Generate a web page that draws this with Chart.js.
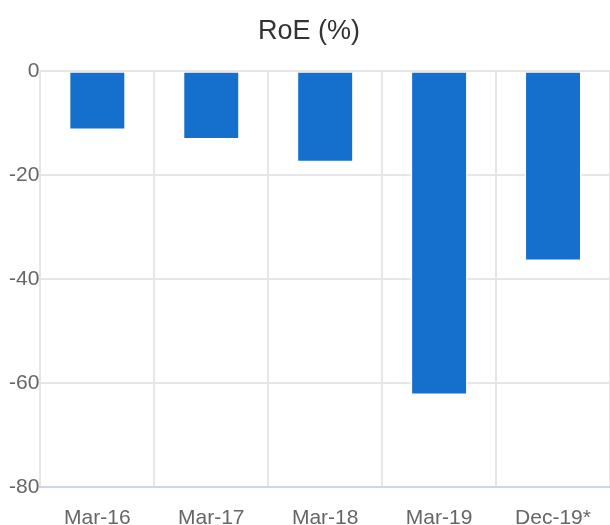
<!DOCTYPE html>
<html lang="en">
<head>
  <meta charset="UTF-8" />
  <title>RoE (%)</title>
  <script src="https://cdn.jsdelivr.net/npm/chart.js"></script>
  <style>
    body {
      margin: 0;
      background-color: #ffffff;
    }

    .chart-box {
      width: 610px;
      height: 525px;
    }
  </style>
</head>
<body>

  <div class="chart-box">
    <canvas id="roeChart"></canvas>
  </div>

  <script>
    const categories = ["Mar-16", "Mar-17", "Mar-18", "Mar-19", "Dec-19*"];
    const roeValues = [-11.3, -13.1, -17.5, -62.3, -36.5];
    const yTicks = [0, -20, -40, -60, -80];

    const ctx = document.getElementById('roeChart').getContext('2d');
    new Chart(ctx, {
      type: 'bar',
      data: {
        labels: categories,
        datasets: [{
          label: 'RoE (%)',
          data: roeValues,
          backgroundColor: '#1570cd',
          borderColor: '#ffffff',
          borderWidth: 1.5,
          borderSkipped: 'start',
          barPercentage: 0.5,
          categoryPercentage: 1
        }]
      },
      options: {
        responsive: true,
        maintainAspectRatio: false,
        animation: false,
        layout: {
          padding: { left: 8, right: 0, top: 0, bottom: -25 }
        },
        plugins: {
          legend: { display: false },
          tooltip: { enabled: false },
          title: {
            display: true,
            text: 'RoE (%)',
            color: '#333333',
            font: { family: 'Liberation Sans', size: 27, weight: 'normal' },
            padding: { top: 15, bottom: 24 }
          }
        },
        scales: {
          x: {
            grid: { color: '#e6e6e6', lineWidth: 2, drawTicks: false, offset: true },
            border: { color: '#ccd6eb', width: 2 },
            ticks: {
              color: '#666666',
              font: { family: 'Liberation Sans', size: 21 },
              padding: 19
            }
          },
          y: {
            min: -80,
            max: 0,
            afterBuildTicks: axis => {
              axis.ticks = yTicks.map(v => ({ value: v }));
            },
            grid: { color: '#e6e6e6', lineWidth: 2, drawTicks: false },
            border: { display: false },
            ticks: {
              color: '#666666',
              font: { family: 'Liberation Sans', size: 21 },
              padding: 1
            }
          }
        }
      }
    });
  </script>

</body>
</html>
